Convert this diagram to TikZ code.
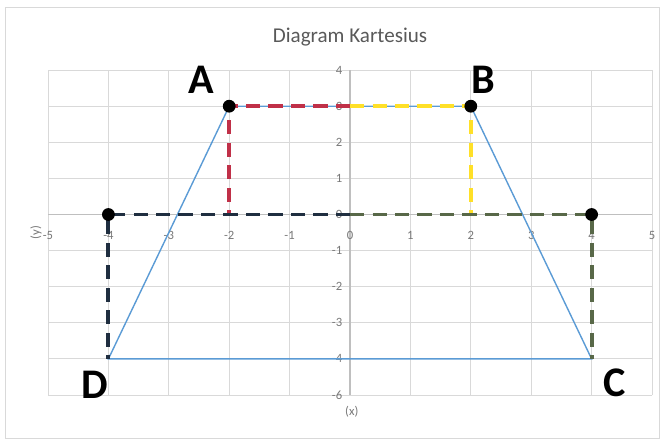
\documentclass[tikz,border=0pt]{standalone}
\usepackage{fontspec}
\setmainfont{Carlito}
\usepackage{tikz}
\usetikzlibrary{positioning}

\definecolor{gridgray}{RGB}{217,217,217}
\definecolor{axisgray}{RGB}{191,191,191}
\definecolor{ticktext}{RGB}{120,120,120}
\definecolor{trapblue}{RGB}{91,155,213}
\definecolor{dashred}{RGB}{192,48,72}
\definecolor{dashyellow}{RGB}{255,224,40}
\definecolor{dashnavy}{RGB}{31,46,64}
\definecolor{dasholive}{RGB}{88,104,72}

\begin{document}
\begin{tikzpicture}[
  x=1.51cm, y=0.9025cm,
  gridln/.style={draw=gridgray, line width=0.7pt},
  axisln/.style={draw=axisgray, line width=0.8pt},
  tick/.style={font=\fontsize{9}{9}\selectfont, text=ticktext, inner sep=1pt},
  trap/.style={draw=trapblue, line width=1pt},
  dsh/.style={line width=2.8pt, dash pattern=on 10pt off 6pt},
  dot/.style={circle, fill=black, minimum size=0.32cm, inner sep=0pt},
  lbl/.style={font=\fontsize{30}{30}\selectfont\bfseries, inner sep=0pt},
]
\useasboundingbox (-5.795,-6.357) rectangle (5.298,5.942);

% ---- chart frame ----
\draw[gridgray, line width=0.6pt] (-5.712,-6.191) rectangle (5.116,5.748);
\node[font=\fontsize{15}{15}\selectfont, text={rgb,255:red,89;green,89;blue,89}] (title)
  at (0,4.917) {Diagram Kartesius};

% ---- grid and axes ----
\foreach \i in {-5,...,5}
  \draw[gridln] (\i,-5) -- (\i,4);
\foreach \j in {-5,...,4}
  \draw[gridln] (-5,\j) -- (5,\j);
\draw[axisln] (0,-5) -- (0,4);
\draw[axisln] (-5,0) -- (5,0);

% tick labels
\foreach \i in {-5,...,5}
  \node[tick] (xt\i) at (\i,-0.57) {\i};
\foreach \j/\t in {4/4, 3/3, 2/2, 1/1, 0/0, -1/-1, -2/-2, -3/-3, -4/-4, -5/-6}
  \node[tick, anchor=east] (yt\j) at (-0.1,\j) {\t};
\node[tick, rotate=90] (ytitle) at (-5.2,-0.5) {(y)};
\node[tick] (xtitle) at (0.03,-5.47) {(x)};

% ---- points ----
\coordinate (A) at (-2,3);
\coordinate (B) at (2,3);
\coordinate (C) at (4,-4);
\coordinate (D) at (-4,-4);
\coordinate (M) at (0,3);
\coordinate (O) at (0,0);
\coordinate (F) at (-2,0);
\coordinate (G) at (2,0);
\coordinate (P) at (-4,0);
\coordinate (Q) at (4,0);

% trapezium
\draw[trap] (A) -- (B) -- (C) -- (D) -- cycle;

% dashed guides
\draw[dsh, dashred]    (M) -- (A) -- (F);
\draw[dsh, dashyellow] (M) -- (B) -- (G);
\draw[dsh, dashnavy]   (O) -- (P) -- (D);
\draw[dsh, dasholive]  (O) -- (Q) -- (C);

% dots
\foreach \p in {A, B, P, Q}
  \node[dot] (dot\p) at (\p) {};

% letters
\node[lbl] (labA) at (-2.467,3.726) {A};
\node[lbl] (labB) at (2.20,3.726) {B};
\node[lbl] (labC) at (4.387,-4.668) {C};
\node[lbl] (labD) at (-4.222,-4.723) {D};
\end{tikzpicture}
\end{document}
